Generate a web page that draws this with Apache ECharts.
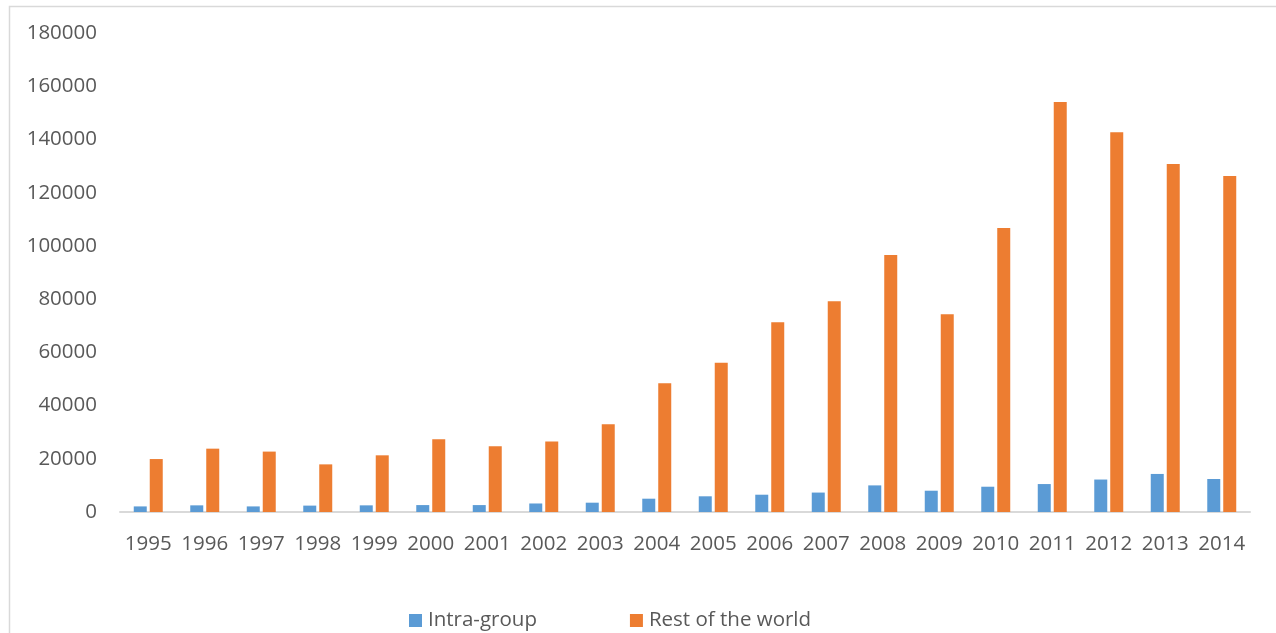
<!DOCTYPE html>
<html>
<head>
<meta charset="utf-8">
<script src="https://cdn.jsdelivr.net/npm/echarts@6/dist/echarts.min.js"></script>
<style>
html,body{margin:0;padding:0;background:#fff;}
#c{width:1276px;height:633px;}
</style>
</head>
<body>
<div id="c"></div>
<script>
const years = ['1995','1996','1997','1998','1999','2000','2001','2002','2003','2004','2005','2006','2007','2008','2009','2010','2011','2012','2013','2014'];
const intraGroup = [2100,2500,2100,2400,2500,2600,2600,3200,3500,5000,5900,6500,7300,10000,8000,9500,10500,12200,14300,12400];
const restOfWorld = [19900,23800,22700,17900,21300,27300,24700,26500,33000,48400,56100,71300,79200,96600,74300,106700,154100,142700,130800,126300];
const yTicks = [0,20000,40000,60000,80000,100000,120000,140000,160000,180000];

const font = 'Open Sans, Liberation Sans, sans-serif';
const chart = echarts.init(document.getElementById('c'), null, {renderer:'canvas'});
chart.setOption({
  animation:false,
  backgroundColor:'#ffffff',
  graphic:[{
    type:'rect', left:7, top:4, z:-1,
    shape:{width:1268, height:640},
    style:{fill:'none', stroke:'#d9d9d9', lineWidth:1.5}
  }],
  grid:{left:120, right:26, top:33, bottom:121, containLabel:false},
  legend:{
    top:605, left:404, itemGap:93, itemWidth:13, itemHeight:13,
    icon:'rect',
    textStyle:{fontFamily:font, fontSize:20.5, color:'#595959', padding:[0,0,0,1]},
    data:['Intra-group','Rest of the world']
  },
  xAxis:{
    type:'category', data:years,
    axisLine:{lineStyle:{color:'#d9d9d9', width:2}},
    axisTick:{show:false},
    axisLabel:{fontFamily:font, fontSize:20.5, color:'#595959', margin:22, interval:0}
  },
  yAxis:{
    type:'value', min:yTicks[0], max:yTicks[yTicks.length-1], interval:20000,
    splitLine:{show:false},
    axisLine:{show:false}, axisTick:{show:false},
    axisLabel:{fontFamily:font, fontSize:20.5, color:'#595959', margin:23,
      formatter:function(v){return String(v);}}
  },
  series:[
    {name:'Intra-group', type:'bar', data:intraGroup, barWidth:13, barGap:'23%',
     itemStyle:{color:'#5b9bd5'}},
    {name:'Rest of the world', type:'bar', data:restOfWorld, barWidth:13,
     itemStyle:{color:'#ed7d31'}}
  ]
});
</script>
</body>
</html>
